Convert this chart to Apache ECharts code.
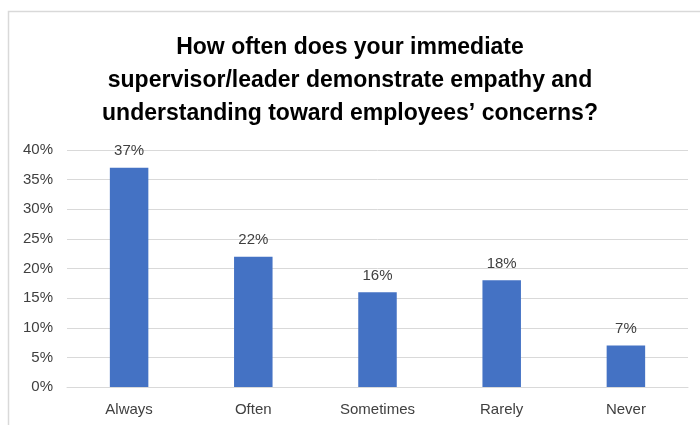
<!DOCTYPE html>
<html><head><meta charset="utf-8">
<script src="https://cdn.jsdelivr.net/npm/echarts@6/dist/echarts.min.js"></script>
<style>html,body{margin:0;padding:0;background:#fff}#c{width:700px;height:425px}</style>
</head><body><div id="c"></div>
<script>
const categories = ["Always", "Often", "Sometimes", "Rarely", "Never"];
const values = [37, 22, 16, 18, 7];
const titleText = "How often does your immediate\nsupervisor/leader demonstrate empathy and\nunderstanding toward employees’ concerns?";

const chart = echarts.init(document.getElementById('c'), null, {renderer: 'canvas'});
chart.setOption({
  backgroundColor: '#fff',
  animation: false,
  graphic: [{
    type: 'rect', left: 6, top: 9, shape: {width: 720, height: 440},
    style: {fill: 'none', stroke: '#d9d9d9', lineWidth: 1.5}, silent: true
  }],
  title: {
    text: titleText, left: 'center', top: 26,
    textStyle: {fontFamily: 'Liberation Sans', fontWeight: 'bold', fontSize: 23, lineHeight: 33, color: '#000'}
  },
  grid: {left: 67, right: 12, top: 150, bottom: 38},
  xAxis: {
    type: 'category', data: categories,
    axisLine: {lineStyle: {color: '#d9d9d9'}}, axisTick: {show: false},
    axisLabel: {color: '#404040', fontSize: 15, fontFamily: 'Liberation Sans', margin: 15}
  },
  yAxis: {
    type: 'value', min: 0, max: 40, interval: 5,
    axisLine: {show: false}, axisTick: {show: false},
    splitLine: {lineStyle: {color: '#d9d9d9'}},
    axisLabel: {formatter: '{value}%', color: '#404040', fontSize: 15, fontFamily: 'Liberation Sans', margin: 14}
  },
  series: [{
    type: 'bar', data: values, barWidth: '31%',
    itemStyle: {color: '#4472C4'},
    label: {show: true, position: 'top', formatter: '{c}%', color: '#404040', fontSize: 15, fontFamily: 'Liberation Sans', distance: 9}
  }]
});
</script></body></html>
